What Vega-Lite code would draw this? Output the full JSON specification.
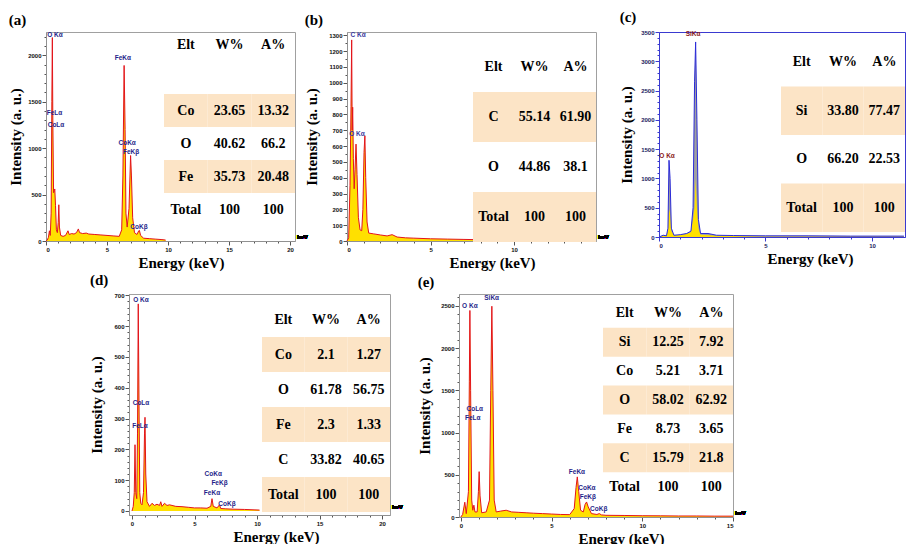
{
"$schema": "https://vega.github.io/schema/vega-lite/v6.json",
"background": "white",
"padding": {"left": 8, "top": 9, "right": 0, "bottom": 0},
"spacing": 1,
"config": {
  "view": {"stroke": "#a0a0a0"},
  "title": {"anchor": "start", "frame": "bounds", "font": "Liberation Serif", "fontSize": 15, "fontWeight": "bold", "offset": 4, "color": "#000"},
  "axis": {"grid": false, "domainColor": "#909090", "tickColor": "#555", "labelFont": "Liberation Sans", "labelFontSize": 6, "labelFontWeight": "bold", "labelColor": "#111", "labelPadding": 1, "labelOverlap": false, "titleFont": "Liberation Serif", "titleFontSize": 15, "titleFontWeight": "bold", "titleColor": "#000", "format": "d"},
  "axisY": {"titlePadding": 7},
  "axisX": {"titlePadding": 3}
},
"datasets": {
  "a": [{"e":0,"i":0},{"e":0.1,"i":10},{"e":0.2,"i":40},{"e":0.28,"i":110},{"e":0.35,"i":60},{"e":0.42,"i":300},{"e":0.48,"i":1500},{"e":0.52,"i":2190},{"e":0.56,"i":1300},{"e":0.62,"i":520},{"e":0.68,"i":540},{"e":0.72,"i":560},{"e":0.78,"i":380},{"e":0.85,"i":120},{"e":0.93,"i":90},{"e":1.0,"i":200},{"e":1.05,"i":390},{"e":1.1,"i":150},{"e":1.2,"i":60},{"e":1.4,"i":50},{"e":1.6,"i":60},{"e":1.8,"i":110},{"e":1.9,"i":70},{"e":2.1,"i":80},{"e":2.3,"i":75},{"e":2.5,"i":90},{"e":2.65,"i":130},{"e":2.75,"i":90},{"e":3.0,"i":80},{"e":3.3,"i":85},{"e":3.5,"i":75},{"e":4.0,"i":70},{"e":4.5,"i":65},{"e":5.0,"i":60},{"e":5.5,"i":55},{"e":6.0,"i":50},{"e":6.2,"i":120},{"e":6.3,"i":700},{"e":6.4,"i":1890},{"e":6.48,"i":1200},{"e":6.55,"i":300},{"e":6.65,"i":150},{"e":6.8,"i":350},{"e":6.93,"i":920},{"e":7.0,"i":700},{"e":7.1,"i":250},{"e":7.25,"i":90},{"e":7.45,"i":70},{"e":7.6,"i":110},{"e":7.65,"i":115},{"e":7.75,"i":60},{"e":8.0,"i":30},{"e":8.5,"i":25},{"e":9.0,"i":20},{"e":9.5,"i":15},{"e":9.8,"i":10}],
  "la": [{"e":0.74,"i":2220,"t":"O Kα"},{"e":0.7,"i":1377,"t":"FeLα"},{"e":0.82,"i":1246,"t":"CoLα"},{"e":6.3,"i":1967,"t":"FeKα"},{"e":6.65,"i":1060,"t":"CoKα"},{"e":6.97,"i":962,"t":"FeKβ"},{"e":7.62,"i":153,"t":"CoKβ"}],
  "ta": [{"Elt":"Elt","W":"W%","A":"A%"},{"Elt":"Co","W":"23.65","A":"13.32"},{"Elt":"O","W":"40.62","A":"66.2"},{"Elt":"Fe","W":"35.73","A":"20.48"},{"Elt":"Total","W":"100","A":"100"}],
  "b": [{"e":0,"i":0},{"e":0.1,"i":20},{"e":0.18,"i":350},{"e":0.24,"i":850},{"e":0.28,"i":1270},{"e":0.31,"i":700},{"e":0.34,"i":845},{"e":0.38,"i":520},{"e":0.43,"i":330},{"e":0.48,"i":450},{"e":0.54,"i":612},{"e":0.6,"i":420},{"e":0.68,"i":150},{"e":0.78,"i":70},{"e":0.88,"i":65},{"e":0.95,"i":200},{"e":1.02,"i":560},{"e":1.07,"i":665},{"e":1.12,"i":400},{"e":1.2,"i":120},{"e":1.3,"i":50},{"e":1.6,"i":45},{"e":2.0,"i":38},{"e":2.4,"i":32},{"e":2.7,"i":40},{"e":3.0,"i":25},{"e":3.5,"i":20},{"e":4.0,"i":18},{"e":5.0,"i":14},{"e":6.0,"i":12},{"e":7.0,"i":10},{"e":8.0,"i":8},{"e":9.0,"i":6},{"e":10.0,"i":5},{"e":11.0,"i":4},{"e":12.0,"i":3},{"e":13.0,"i":3},{"e":14.0,"i":2},{"e":14.8,"i":2}],
  "lb": [{"e":0.66,"i":1300,"t":"C Kα"},{"e":0.6,"i":675,"t":"O Kα"}],
  "tb": [{"Elt":"Elt","W":"W%","A":"A%"},{"Elt":"C","W":"55.14","A":"61.90"},{"Elt":"O","W":"44.86","A":"38.1"},{"Elt":"Total","W":"100","A":"100"}],
  "c": [{"e":0,"i":0,"f":0},{"e":0.2,"i":30,"f":20},{"e":0.35,"i":20,"f":15},{"e":0.42,"i":150,"f":100},{"e":0.47,"i":1310,"f":480},{"e":0.52,"i":1000,"f":400},{"e":0.58,"i":150,"f":100},{"e":0.7,"i":30,"f":25},{"e":1.0,"i":40,"f":35},{"e":1.3,"i":60,"f":50},{"e":1.5,"i":100,"f":80},{"e":1.6,"i":500,"f":300},{"e":1.67,"i":2650,"f":500},{"e":1.72,"i":3330,"f":1000},{"e":1.78,"i":2000,"f":500},{"e":1.85,"i":300,"f":150},{"e":1.95,"i":60,"f":40},{"e":2.3,"i":60,"f":30},{"e":2.7,"i":30,"f":20},{"e":3.5,"i":25,"f":15},{"e":5.0,"i":20,"f":10},{"e":7.0,"i":20,"f":10},{"e":9.0,"i":15,"f":8},{"e":11.5,"i":15,"f":8}],
  "lc": [{"e":0.38,"i":1383,"t":"O Kα"},{"e":1.6,"i":3466,"t":"SiKα"}],
  "tc": [{"Elt":"Elt","W":"W%","A":"A%"},{"Elt":"Si","W":"33.80","A":"77.47"},{"Elt":"O","W":"66.20","A":"22.53"},{"Elt":"Total","W":"100","A":"100"}],
  "d": [{"e":0,"i":0},{"e":0.1,"i":15},{"e":0.18,"i":60},{"e":0.24,"i":215},{"e":0.3,"i":60},{"e":0.38,"i":40},{"e":0.44,"i":250},{"e":0.5,"i":672},{"e":0.56,"i":350},{"e":0.62,"i":60},{"e":0.7,"i":25},{"e":0.8,"i":20},{"e":0.92,"i":60},{"e":1.0,"i":250},{"e":1.04,"i":304},{"e":1.1,"i":120},{"e":1.2,"i":30},{"e":1.4,"i":15},{"e":1.6,"i":25},{"e":1.8,"i":18},{"e":2.0,"i":22},{"e":2.2,"i":18},{"e":2.3,"i":30},{"e":2.4,"i":15},{"e":2.6,"i":25},{"e":2.8,"i":18},{"e":3.0,"i":20},{"e":3.5,"i":15},{"e":4.0,"i":14},{"e":4.5,"i":12},{"e":5.0,"i":10},{"e":5.5,"i":10},{"e":6.0,"i":9},{"e":6.3,"i":15},{"e":6.4,"i":40},{"e":6.5,"i":15},{"e":6.8,"i":10},{"e":7.0,"i":20},{"e":7.1,"i":8},{"e":7.5,"i":7},{"e":8.0,"i":6},{"e":9.0,"i":5},{"e":10.2,"i":3}],
  "ld": [{"e":0.72,"i":685,"t":"O Kα"},{"e":0.72,"i":349,"t":"CoLα"},{"e":0.64,"i":277,"t":"FeLα"},{"e":6.5,"i":120,"t":"CoKα"},{"e":7.0,"i":91,"t":"FeKβ"},{"e":6.4,"i":59,"t":"FeKα"},{"e":7.6,"i":23,"t":"CoKβ"}],
  "td": [{"Elt":"Elt","W":"W%","A":"A%"},{"Elt":"Co","W":"2.1","A":"1.27"},{"Elt":"O","W":"61.78","A":"56.75"},{"Elt":"Fe","W":"2.3","A":"1.33"},{"Elt":"C","W":"33.82","A":"40.65"},{"Elt":"Total","W":"100","A":"100"}],
  "e": [{"e":0,"i":0},{"e":0.1,"i":30},{"e":0.22,"i":175},{"e":0.3,"i":40},{"e":0.42,"i":300},{"e":0.47,"i":1600},{"e":0.5,"i":2445},{"e":0.54,"i":1500},{"e":0.6,"i":200},{"e":0.66,"i":80},{"e":0.72,"i":140},{"e":0.78,"i":60},{"e":0.9,"i":60},{"e":0.97,"i":300},{"e":1.01,"i":537},{"e":1.06,"i":250},{"e":1.15,"i":50},{"e":1.4,"i":60},{"e":1.58,"i":200},{"e":1.65,"i":1500},{"e":1.71,"i":2495},{"e":1.77,"i":1500},{"e":1.84,"i":200},{"e":1.95,"i":60},{"e":2.2,"i":70},{"e":2.5,"i":80},{"e":2.8,"i":60},{"e":3.2,"i":55},{"e":3.6,"i":50},{"e":4.0,"i":45},{"e":4.5,"i":40},{"e":5.0,"i":35},{"e":5.5,"i":30},{"e":6.0,"i":28},{"e":6.25,"i":100},{"e":6.35,"i":350},{"e":6.42,"i":475},{"e":6.5,"i":300},{"e":6.6,"i":80},{"e":6.75,"i":60},{"e":6.85,"i":150},{"e":6.93,"i":178},{"e":7.02,"i":120},{"e":7.2,"i":40},{"e":7.5,"i":30},{"e":7.63,"i":40},{"e":7.75,"i":25},{"e":8.0,"i":20},{"e":9.0,"i":18},{"e":10.0,"i":15},{"e":11.0,"i":14},{"e":12.0,"i":12},{"e":13.0,"i":12},{"e":14.0,"i":10},{"e":15.0,"i":10}],
  "le": [{"e":0.5,"i":2500,"t":"O Kα"},{"e":1.7,"i":2595,"t":"SiKα"},{"e":0.77,"i":1280,"t":"CoLα"},{"e":0.66,"i":1173,"t":"FeLα"},{"e":6.4,"i":533,"t":"FeKα"},{"e":6.95,"i":344,"t":"CoKα"},{"e":7.0,"i":237,"t":"FeKβ"},{"e":7.6,"i":95,"t":"CoKβ"}],
  "te": [{"Elt":"Elt","W":"W%","A":"A%"},{"Elt":"Si","W":"12.25","A":"7.92"},{"Elt":"Co","W":"5.21","A":"3.71"},{"Elt":"O","W":"58.02","A":"62.92"},{"Elt":"Fe","W":"8.73","A":"3.65"},{"Elt":"C","W":"15.79","A":"21.8"},{"Elt":"Total","W":"100","A":"100"}]
},
"vconcat": [
{
"bounds": "flush",
"spacing": 0,
"hconcat": [
{
 "width": 249, "height": 209,
 "title": {"text": "(a)"},
 "layer": [
  {"data": {"name": "a"},
   "encoding": {
    "x": {"field": "e", "type": "quantitative", "title": "Energy (keV)", "scale": {"domain": [0, 20.4], "nice": false, "zero": false},
          "axis": {"values": [0,1,2,3,4,5,6,7,8,9,10,11,12,13,14,15,16,17,18,19,20], "labelExpr": "datum.value % 5 === 0 ? datum.label : ''", "tickSize": {"condition": {"test": "datum.value % 5 === 0", "value": 4}, "value": 2}, "titleX": 135}},
    "y": {"field": "i", "type": "quantitative", "title": "Intensity (a. u.)", "scale": {"domain": [0, 2250], "nice": false},
          "axis": {"values": [0,100,200,300,400,500,600,700,800,900,1000,1100,1200,1300,1400,1500,1600,1700,1800,1900,2000,2100,2200], "labelExpr": "datum.value % 500 === 0 ? datum.label : ''", "tickSize": {"condition": {"test": "datum.value % 500 === 0", "value": 4}, "value": 2}, "titlePadding": 4}}
   },
   "layer": [
    {"mark": {"type": "area", "color": "#ffe000", "opacity": 1}},
    {"mark": {"type": "line", "color": "#e3141b", "strokeWidth": 1}},
    {"data": {"name": "la"}, "mark": {"type": "text", "color": "#1f1f8a", "font": "Liberation Sans", "fontSize": 6.5, "fontWeight": "bold", "baseline": "middle"}, "encoding": {"text": {"field": "t"}}},
    {"mark": {"type": "text", "text": "keV", "align": "left", "baseline": "bottom", "dx": 2, "dy": -1, "fontSize": 6, "fontWeight": "bold", "font": "Liberation Sans", "color": "#000"}, "encoding": {"x": {"datum": 20.4}, "y": {"datum": 0}}}
   ]},
  {"data": {"name": "ta"},
   "transform": [{"fold": ["Elt", "W", "A"], "as": ["col", "val"]}],
   "encoding": {
    "x": {"field": "col", "type": "nominal", "scale": {"domain": ["Elt", "W", "A"], "range": [118, 249], "paddingInner": 0, "paddingOuter": 0}, "axis": null},
    "y": {"field": "Elt", "type": "nominal", "scale": {"domain": ["Elt", "gap", "Co", "O", "Fe", "Total"], "range": [-4, 194], "paddingInner": 0, "paddingOuter": 0}, "axis": null}
   },
   "layer": [
    {"transform": [{"filter": {"field": "Elt", "oneOf": ["Co", "Fe"]}}], "mark": {"type": "rect", "color": "#fce4c6", "opacity": 1}},
    {"mark": {"type": "text", "font": "Liberation Serif", "fontSize": 14, "fontWeight": "bold", "color": "#000"}, "encoding": {"text": {"field": "val"}}}
   ]}
 ],
 "resolve": {"scale": {"x": "independent", "y": "independent"}}
},
{"width": 52, "height": 209, "data": {"values": [{}]}, "mark": {"type": "point", "opacity": 0}, "encoding": {}, "view": {"stroke": null}},
{
 "width": 249, "height": 209,
 "title": {"text": "(b)"},
 "layer": [
  {"data": {"name": "b"},
   "encoding": {
    "x": {"field": "e", "type": "quantitative", "title": "Energy (keV)", "scale": {"domain": [0, 14.9], "nice": false, "zero": false},
          "axis": {"values": [0,1,2,3,4,5,6,7,8,9,10,11,12,13,14], "labelExpr": "datum.value % 5 === 0 ? datum.label : ''", "tickSize": {"condition": {"test": "datum.value % 5 === 0", "value": 4}, "value": 2}, "titleX": 145}},
    "y": {"field": "i", "type": "quantitative", "title": "Intensity (a. u.)", "scale": {"domain": [0, 1320], "nice": false},
          "axis": {"values": [0,50,100,150,200,250,300,350,400,450,500,550,600,650,700,750,800,850,900,950,1000,1050,1100,1150,1200,1250,1300], "labelExpr": "datum.value % 100 === 0 ? datum.label : ''", "tickSize": {"condition": {"test": "datum.value % 100 === 0", "value": 4}, "value": 2}, "titlePadding": 9}}
   },
   "layer": [
    {"mark": {"type": "area", "color": "#ffe000", "opacity": 1}},
    {"mark": {"type": "line", "color": "#e3141b", "strokeWidth": 1}},
    {"data": {"name": "lb"}, "mark": {"type": "text", "color": "#3a3aa0", "font": "Liberation Sans", "fontSize": 6.5, "fontWeight": "bold", "baseline": "middle"}, "encoding": {"text": {"field": "t"}}},
    {"mark": {"type": "text", "text": "keV", "align": "left", "baseline": "bottom", "dx": 2, "dy": -1, "fontSize": 6, "fontWeight": "bold", "font": "Liberation Sans", "color": "#000"}, "encoding": {"x": {"datum": 14.9}, "y": {"datum": 0}}}
   ]},
  {"data": {"name": "tb"},
   "transform": [{"fold": ["Elt", "W", "A"], "as": ["col", "val"]}],
   "encoding": {
    "x": {"field": "col", "type": "nominal", "scale": {"domain": ["Elt", "W", "A"], "range": [126, 249], "paddingInner": 0, "paddingOuter": 0}, "axis": null},
    "y": {"field": "Elt", "type": "nominal", "scale": {"domain": ["Elt", "C", "O", "Total"], "range": [10, 210], "paddingInner": 0, "paddingOuter": 0}, "axis": null}
   },
   "layer": [
    {"transform": [{"filter": {"field": "Elt", "oneOf": ["C", "Total"]}}], "mark": {"type": "rect", "color": "#fce4c6", "opacity": 1}},
    {"mark": {"type": "text", "font": "Liberation Serif", "fontSize": 14, "fontWeight": "bold", "color": "#000"}, "encoding": {"text": {"field": "val"}}}
   ]}
 ],
 "resolve": {"scale": {"x": "independent", "y": "independent"}}
},
{"width": 63, "height": 209, "data": {"values": [{}]}, "mark": {"type": "point", "opacity": 0}, "encoding": {}, "view": {"stroke": null}},
{
 "width": 246, "height": 205,
 "title": {"text": "(c)"},
 "view": {"stroke": "#3a3ad0"},
 "layer": [
  {"data": {"name": "c"},
   "encoding": {
    "x": {"field": "e", "type": "quantitative", "title": "Energy (keV)", "scale": {"domain": [0, 11.55], "nice": false, "zero": false},
          "axis": {"values": [0,1,2,3,4,5,6,7,8,9,10,11], "labelExpr": "datum.value % 5 === 0 ? datum.label : ''", "tickSize": {"condition": {"test": "datum.value % 5 === 0", "value": 4}, "value": 2}, "titleX": 151, "domainColor": "#3a3ad0", "tickColor": "#3a3ad0", "labelColor": "#1a1a60"}},
    "y": {"field": "i", "type": "quantitative", "title": "Intensity (a. u.)", "scale": {"domain": [0, 3500], "nice": false},
          "axis": {"values": [0,100,200,300,400,500,600,700,800,900,1000,1100,1200,1300,1400,1500,1600,1700,1800,1900,2000,2100,2200,2300,2400,2500,2600,2700,2800,2900,3000,3100,3200,3300,3400,3500], "labelExpr": "datum.value % 500 === 0 ? datum.label : ''", "tickSize": {"condition": {"test": "datum.value % 500 === 0", "value": 4}, "value": 2}, "titlePadding": 6, "domainColor": "#3a3ad0", "tickColor": "#3a3ad0", "labelColor": "#1a1a60"}}
   },
   "layer": [
    {"mark": {"type": "area", "color": "#a0a0a0", "opacity": 1}},
    {"mark": {"type": "area", "color": "#ffe000", "opacity": 1}, "encoding": {"y": {"field": "f", "type": "quantitative", "title": "Intensity (a. u.)"}}},
    {"mark": {"type": "line", "color": "#2b2bd8", "strokeWidth": 1}},
    {"data": {"name": "lc"}, "mark": {"type": "text", "color": "#8b1a1a", "font": "Liberation Sans", "fontSize": 6.5, "fontWeight": "bold", "baseline": "middle"}, "encoding": {"text": {"field": "t"}}}
   ]},
  {"data": {"name": "tc"},
   "transform": [{"fold": ["Elt", "W", "A"], "as": ["col", "val"]}],
   "encoding": {
    "x": {"field": "col", "type": "nominal", "scale": {"domain": ["Elt", "W", "A"], "range": [122, 246], "paddingInner": 0, "paddingOuter": 0}, "axis": null},
    "y": {"field": "Elt", "type": "nominal", "scale": {"domain": ["Elt", "Si", "O", "Total"], "range": [6, 200], "paddingInner": 0, "paddingOuter": 0}, "axis": null}
   },
   "layer": [
    {"transform": [{"filter": {"field": "Elt", "oneOf": ["Si", "Total"]}}], "mark": {"type": "rect", "color": "#fce4c6", "opacity": 1}},
    {"mark": {"type": "text", "font": "Liberation Serif", "fontSize": 14, "fontWeight": "bold", "color": "#000"}, "encoding": {"text": {"field": "val"}}}
   ]}
 ],
 "resolve": {"scale": {"x": "independent", "y": "independent"}}
}
]
},
{
"bounds": "flush",
"spacing": 0,
"hconcat": [
{"width": 83, "height": 221, "data": {"values": [{}]}, "mark": {"type": "point", "opacity": 0}, "encoding": {}, "view": {"stroke": null}},
{
 "width": 261, "height": 221,
 "title": {"text": "(d)"},
 "layer": [
  {"data": {"name": "d"},
   "encoding": {
    "x": {"field": "e", "type": "quantitative", "title": "Energy (keV)", "scale": {"domain": [-0.24, 20.64], "nice": false, "zero": false},
          "axis": {"values": [0,1,2,3,4,5,6,7,8,9,10,11,12,13,14,15,16,17,18,19,20], "labelExpr": "datum.value % 5 === 0 ? datum.label : ''", "tickSize": {"condition": {"test": "datum.value % 5 === 0", "value": 4}, "value": 2}, "titleX": 147}},
    "y": {"field": "i", "type": "quantitative", "title": "Intensity (a. u.)", "scale": {"domain": [-13, 704], "nice": false, "zero": false},
          "axis": {"values": [0,20,40,60,80,100,120,140,160,180,200,220,240,260,280,300,320,340,360,380,400,420,440,460,480,500,520,540,560,580,600,620,640,660,680,700], "labelExpr": "datum.value % 100 === 0 ? datum.label : ''", "tickSize": {"condition": {"test": "datum.value % 100 === 0", "value": 4}, "value": 2}, "titlePadding": 9}}
   },
   "layer": [
    {"mark": {"type": "area", "color": "#ffe000", "opacity": 1}},
    {"mark": {"type": "line", "color": "#e3141b", "strokeWidth": 1}},
    {"data": {"name": "ld"}, "mark": {"type": "text", "color": "#1f1f8a", "font": "Liberation Sans", "fontSize": 6.5, "fontWeight": "bold", "baseline": "middle"}, "encoding": {"text": {"field": "t"}}},
    {"mark": {"type": "text", "text": "keV", "align": "left", "baseline": "bottom", "dx": 2, "dy": -1, "fontSize": 6, "fontWeight": "bold", "font": "Liberation Sans", "color": "#000"}, "encoding": {"x": {"datum": 20.64}, "y": {"datum": 0}}}
   ]},
  {"data": {"name": "td"},
   "transform": [{"fold": ["Elt", "W", "A"], "as": ["col", "val"]}],
   "encoding": {
    "x": {"field": "col", "type": "nominal", "scale": {"domain": ["Elt", "W", "A"], "range": [133, 261], "paddingInner": 0, "paddingOuter": 0}, "axis": null},
    "y": {"field": "Elt", "type": "nominal", "scale": {"domain": ["Elt", "Co", "O", "Fe", "C", "Total"], "range": [8, 218], "paddingInner": 0, "paddingOuter": 0}, "axis": null}
   },
   "layer": [
    {"transform": [{"filter": {"field": "Elt", "oneOf": ["Co", "Fe", "Total"]}}], "mark": {"type": "rect", "color": "#fce4c6", "opacity": 1}},
    {"mark": {"type": "text", "font": "Liberation Serif", "fontSize": 14, "fontWeight": "bold", "color": "#000"}, "encoding": {"text": {"field": "val"}}}
   ]}
 ],
 "resolve": {"scale": {"x": "independent", "y": "independent"}}
},
{"width": 69, "height": 221, "data": {"values": [{}]}, "mark": {"type": "point", "opacity": 0}, "encoding": {}, "view": {"stroke": null}},
{
 "width": 274, "height": 223,
 "title": {"text": "(e)"},
 "layer": [
  {"data": {"name": "e"},
   "encoding": {
    "x": {"field": "e", "type": "quantitative", "title": "Energy (keV)", "scale": {"domain": [-0.1, 15], "nice": false, "zero": false},
          "axis": {"values": [0,1,2,3,4,5,6,7,8,9,10,11,12,13,14,15], "labelExpr": "datum.value % 5 === 0 ? datum.label : ''", "tickSize": {"condition": {"test": "datum.value % 5 === 0", "value": 4}, "value": 2}, "titleX": 162}},
    "y": {"field": "i", "type": "quantitative", "title": "Intensity (a. u.)", "scale": {"domain": [0, 2640], "nice": false},
          "axis": {"values": [0,100,200,300,400,500,600,700,800,900,1000,1100,1200,1300,1400,1500,1600,1700,1800,1900,2000,2100,2200,2300,2400,2500,2600], "labelExpr": "datum.value % 500 === 0 ? datum.label : ''", "tickSize": {"condition": {"test": "datum.value % 500 === 0", "value": 4}, "value": 2}, "titlePadding": 8}}
   },
   "layer": [
    {"mark": {"type": "area", "color": "#ffe000", "opacity": 1}},
    {"mark": {"type": "line", "color": "#e3141b", "strokeWidth": 1}},
    {"data": {"name": "le"}, "mark": {"type": "text", "color": "#1f1f8a", "font": "Liberation Sans", "fontSize": 6.5, "fontWeight": "bold", "baseline": "middle"}, "encoding": {"text": {"field": "t"}}},
    {"mark": {"type": "text", "text": "keV", "align": "left", "baseline": "bottom", "dx": 2, "dy": -1, "fontSize": 6, "fontWeight": "bold", "font": "Liberation Sans", "color": "#000"}, "encoding": {"x": {"datum": 15}, "y": {"datum": 0}}}
   ]},
  {"data": {"name": "te"},
   "transform": [{"fold": ["Elt", "W", "A"], "as": ["col", "val"]}],
   "encoding": {
    "x": {"field": "col", "type": "nominal", "scale": {"domain": ["Elt", "W", "A"], "range": [144, 274], "paddingInner": 0, "paddingOuter": 0}, "axis": null},
    "y": {"field": "Elt", "type": "nominal", "scale": {"domain": ["Elt", "Si", "Co", "O", "Fe", "C", "Total"], "range": [5, 207], "paddingInner": 0, "paddingOuter": 0}, "axis": null}
   },
   "layer": [
    {"transform": [{"filter": {"field": "Elt", "oneOf": ["Si", "O", "C"]}}], "mark": {"type": "rect", "color": "#fce4c6", "opacity": 1}},
    {"mark": {"type": "text", "font": "Liberation Serif", "fontSize": 14, "fontWeight": "bold", "color": "#000"}, "encoding": {"text": {"field": "val"}}}
   ]}
 ],
 "resolve": {"scale": {"x": "independent", "y": "independent"}}
}
]
}
]
}
